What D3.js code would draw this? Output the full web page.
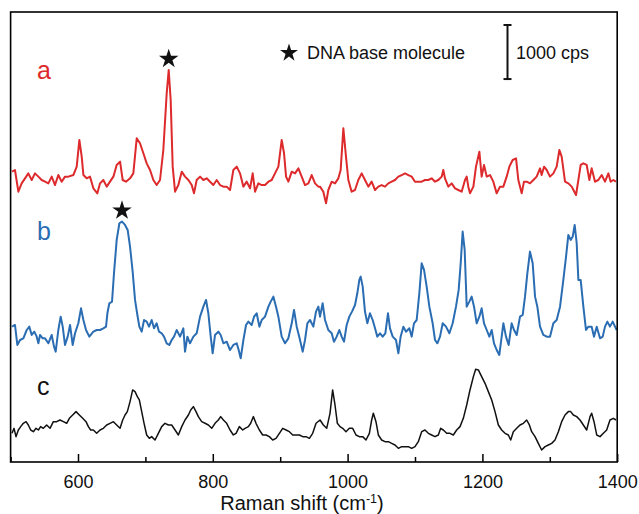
<!DOCTYPE html>
<html>
<head>
<meta charset="utf-8">
<script src="https://cdn.jsdelivr.net/npm/d3@7"></script>
<style>
  html, body { margin: 0; padding: 0; background: #ffffff; }
  svg { display: block; font-family: "Liberation Sans", Arial, Helvetica, sans-serif; }
</style>
</head>
<body>
<svg id="chart" width="639" height="514"></svg>
<script>
// ---- data (Raman shift in cm^-1, intensity in cps above each trace's own offset) ----
const spectrumA = [[502.1,586],[506.5,617],[511.5,216],[516.4,370],[521.4,463],[526.3,555],[531.3,432],[536.2,555],[541.2,494],[546.1,432],[551.1,401],[556.0,370],[561.0,494],[565.9,339],[570.8,524],[575.8,401],[580.7,494],[585.7,494],[593.1,524],[598.1,679],[602.0,1172],[605.5,864],[608.0,524],[612.9,463],[617.8,494],[622.8,278],[628.7,185],[632.7,370],[637.6,432],[642.6,309],[647.5,401],[652.5,494],[657.4,710],[662.4,771],[666.3,432],[671.2,401],[677.2,463],[682.1,555],[687.1,1203],[692.0,1111],[697.0,926],[701.9,740],[706.9,617],[711.8,432],[716.7,339],[721.7,432],[726.6,987],[731.6,2036],[734.6,2468],[737.5,1913],[740.5,679],[744.0,216],[748.9,339],[753.9,586],[758.8,494],[763.8,432],[768.7,339],[772.1,185],[776.1,432],[781.1,494],[786.0,432],[791.0,463],[795.9,401],[800.8,339],[805.8,432],[810.7,339],[815.7,309],[820.6,309],[825.6,247],[830.5,617],[835.5,679],[840.4,555],[845.4,309],[850.3,401],[855.3,278],[859.2,555],[862.7,216],[867.6,370],[872.6,339],[877.5,339],[882.5,401],[887.4,432],[892.3,555],[897.3,679],[902.2,1172],[905.7,926],[908.7,494],[912.1,401],[917.1,586],[922.0,555],[927.0,648],[931.9,494],[936.8,339],[941.8,370],[946.7,524],[951.7,370],[956.6,309],[959.1,309],[964.0,216],[968.0,0],[971.4,247],[976.4,401],[981.3,370],[986.3,463],[989.7,617],[993.7,1388],[997.6,864],[1001.1,432],[1006.0,216],[1011.0,247],[1015.9,432],[1020.9,555],[1025.8,432],[1030.8,309],[1035.7,401],[1040.7,247],[1045.6,309],[1050.5,339],[1055.5,309],[1060.4,370],[1065.4,401],[1070.3,432],[1075.3,494],[1080.2,524],[1085.2,555],[1090.1,524],[1095.1,494],[1100.0,401],[1105.0,401],[1109.9,401],[1114.8,432],[1119.8,432],[1124.7,463],[1129.7,401],[1134.6,432],[1139.6,494],[1142.0,617],[1144.5,463],[1149.5,309],[1154.4,370],[1159.4,278],[1164.3,247],[1169.2,216],[1174.2,432],[1176.7,494],[1179.1,309],[1181.6,185],[1186.6,309],[1190.5,679],[1195.5,956],[1198.9,494],[1202.4,710],[1206.4,494],[1211.3,524],[1216.2,401],[1221.2,185],[1226.1,309],[1231.1,309],[1236.0,494],[1240.0,679],[1244.9,802],[1249.9,833],[1253.3,432],[1258.3,185],[1261.7,401],[1265.7,401],[1270.6,370],[1275.6,432],[1280.5,494],[1285.5,648],[1287.9,524],[1291.4,679],[1295.4,617],[1300.3,494],[1305.3,555],[1310.2,679],[1314.2,987],[1317.6,864],[1322.6,401],[1327.5,370],[1332.5,309],[1338.9,154],[1342.4,432],[1345.8,710],[1349.8,740],[1354.7,710],[1358.7,432],[1362.1,648],[1367.1,401],[1372.0,432],[1377.0,524],[1381.9,401],[1386.9,555],[1390.3,401],[1394.3,432],[1398.2,401]];

const spectrumB = [[502.1,617],[506.5,648],[510.0,278],[514.0,370],[518.9,401],[523.9,555],[527.8,617],[531.3,463],[535.2,524],[538.7,432],[541.2,309],[543.6,463],[547.6,401],[551.1,401],[556.0,309],[561.0,463],[564.4,247],[566.9,154],[570.8,555],[574.3,802],[577.3,617],[580.7,278],[584.7,432],[588.2,648],[592.1,278],[595.6,494],[600.5,679],[604.5,956],[608.0,740],[611.9,555],[616.8,432],[622.8,524],[627.7,555],[632.7,555],[637.6,586],[641.6,617],[643.6,864],[646.5,1049],[650.5,1080],[653.4,1604],[657.4,2221],[661.4,2530],[665.3,2561],[669.8,2499],[673.7,2406],[677.2,2098],[681.1,1635],[684.6,1111],[688.1,833],[691.0,617],[694.5,524],[698.0,740],[701.9,710],[705.4,617],[709.3,740],[712.8,586],[716.7,679],[720.2,524],[724.2,494],[727.6,432],[731.6,309],[735.5,278],[739.0,370],[742.5,432],[746.4,555],[751.4,432],[756.3,586],[758.8,154],[762.3,432],[766.2,309],[771.2,432],[776.1,494],[781.1,802],[786.0,987],[790.0,1111],[793.4,864],[796.9,432],[799.8,123],[803.3,463],[808.2,524],[811.7,463],[815.7,309],[820.6,339],[825.6,185],[830.5,278],[835.5,309],[838.4,185],[841.4,31],[845.4,370],[849.3,648],[852.8,710],[857.7,648],[861.2,802],[865.1,864],[869.1,617],[872.6,740],[877.5,802],[882.5,987],[885.9,1080],[889.9,1172],[893.8,987],[897.3,802],[902.2,432],[907.2,309],[912.1,401],[917.1,679],[920.5,926],[924.5,617],[929.4,370],[933.4,154],[936.8,370],[940.3,679],[944.3,740],[949.2,617],[953.1,895],[956.6,987],[959.1,802],[963.0,1049],[966.5,740],[971.4,555],[976.4,494],[979.8,339],[983.8,432],[987.7,555],[991.2,432],[994.7,339],[998.6,648],[1002.6,802],[1006.5,895],[1011.0,1018],[1014.4,1234],[1017.4,1481],[1019.4,1543],[1022.4,1357],[1025.8,895],[1029.3,679],[1033.2,864],[1037.2,740],[1040.7,586],[1044.1,432],[1048.1,494],[1052.0,432],[1056.0,494],[1059.9,864],[1062.9,586],[1066.9,432],[1071.8,370],[1075.3,123],[1078.7,432],[1082.7,617],[1086.7,524],[1091.6,586],[1095.1,432],[1098.5,679],[1102.5,740],[1106.4,1234],[1109.9,1789],[1113.4,1666],[1117.3,1357],[1121.3,987],[1126.2,679],[1129.7,370],[1133.2,309],[1137.1,432],[1141.1,679],[1146.0,617],[1151.0,494],[1155.9,679],[1160.8,987],[1164.8,1296],[1167.8,1789],[1170.7,2375],[1173.7,2036],[1176.7,987],[1180.6,1080],[1184.1,1172],[1187.6,987],[1191.5,679],[1195.5,802],[1198.9,956],[1202.4,679],[1206.4,555],[1210.3,432],[1213.8,555],[1217.2,309],[1221.2,185],[1225.1,93],[1228.6,432],[1231.1,679],[1235.0,432],[1239.0,278],[1243.4,679],[1246.9,555],[1250.9,463],[1255.8,802],[1259.8,833],[1263.2,1172],[1266.7,1604],[1270.6,2005],[1274.6,1789],[1278.1,1172],[1281.5,987],[1285.5,617],[1290.4,463],[1295.4,432],[1300.3,432],[1305.3,679],[1310.2,740],[1315.2,987],[1320.1,1481],[1324.1,1913],[1327.5,2314],[1331.0,2221],[1334.0,2283],[1336.9,2499],[1339.9,2160],[1342.4,1481],[1345.8,1481],[1349.8,987],[1353.7,555],[1357.2,617],[1362.1,617],[1365.6,432],[1369.6,617],[1374.5,401],[1378.5,432],[1381.9,617],[1385.4,710],[1389.3,617],[1393.3,710],[1396.8,617],[1399.2,555]];

const spectrumC = [[502.1,309],[505.1,401],[508.0,247],[511.5,370],[515.0,432],[518.9,494],[522.9,524],[526.3,463],[529.8,370],[533.8,339],[537.7,401],[541.2,370],[544.6,432],[548.6,401],[553.5,463],[558.5,401],[563.4,524],[568.4,524],[573.3,555],[578.3,524],[583.2,494],[587.2,586],[592.1,648],[597.1,710],[602.0,648],[607.0,586],[611.9,524],[615.4,432],[618.8,370],[622.8,370],[627.7,309],[632.7,370],[637.6,401],[642.6,463],[647.5,494],[652.5,524],[657.4,463],[662.4,401],[666.3,555],[669.8,648],[673.2,710],[677.2,895],[681.1,1111],[684.6,1080],[688.1,987],[691.0,926],[694.5,710],[698.0,494],[701.9,278],[705.9,216],[709.3,247],[714.3,185],[719.2,309],[724.2,432],[729.1,494],[734.1,463],[739.0,463],[744.0,370],[748.9,278],[753.9,432],[758.8,555],[763.8,648],[767.2,740],[771.2,802],[775.1,710],[778.6,617],[783.5,524],[788.5,494],[793.4,463],[798.4,401],[803.3,494],[808.2,555],[811.7,617],[815.7,555],[820.6,494],[825.6,370],[830.5,278],[834.5,309],[839.4,432],[844.4,370],[847.8,401],[852.8,432],[856.2,494],[860.2,617],[864.1,494],[869.1,370],[874.0,278],[879.0,278],[883.9,247],[888.9,185],[893.8,216],[898.8,309],[903.7,401],[908.7,370],[913.6,339],[918.6,278],[923.5,278],[928.4,278],[933.4,247],[938.3,247],[943.3,216],[948.2,309],[953.2,494],[959.1,555],[964.0,463],[969.0,401],[973.9,679],[977.8,1111],[981.3,833],[984.8,494],[988.7,432],[992.7,401],[997.6,339],[1002.6,401],[1007.5,401],[1012.5,278],[1017.4,247],[1022.4,247],[1027.3,185],[1032.3,309],[1035.7,555],[1038.2,679],[1042.1,524],[1045.6,278],[1050.5,185],[1055.5,154],[1060.4,154],[1065.4,123],[1070.3,93],[1075.3,31],[1080.2,62],[1085.2,62],[1090.1,62],[1095.1,31],[1100.0,62],[1104.9,154],[1109.9,339],[1114.8,370],[1119.8,309],[1124.7,278],[1129.7,247],[1134.6,278],[1138.1,401],[1142.0,370],[1147.0,309],[1151.9,309],[1156.9,278],[1161.8,370],[1166.8,432],[1171.7,586],[1176.7,833],[1181.6,1111],[1186.6,1357],[1190.0,1493],[1194.0,1481],[1198.9,1357],[1203.9,1234],[1208.8,1080],[1213.8,926],[1218.7,710],[1223.7,463],[1228.6,370],[1233.6,309],[1238.5,278],[1242.0,185],[1245.9,339],[1250.9,401],[1255.8,463],[1260.8,494],[1265.7,555],[1269.7,463],[1273.1,339],[1278.1,247],[1283.0,123],[1287.9,0],[1292.9,62],[1297.8,93],[1302.8,123],[1307.7,185],[1312.7,339],[1317.6,524],[1322.6,648],[1327.5,710],[1331.0,710],[1334.9,648],[1339.9,617],[1344.8,555],[1349.8,463],[1354.7,370],[1359.7,617],[1362.1,679],[1365.6,524],[1369.6,278],[1374.5,247],[1379.5,309],[1384.4,370],[1389.3,555],[1394.3,586],[1398.2,555]];

const seriesNames = ["a", "b", "c"];
const seriesColors = ["#dd2a2c", "#2b6db3", "#111111"];
const seriesOffsets = [4785, 1887, 222];          // cps offsets used to stack the traces
const seriesData = [spectrumA, spectrumB, spectrumC];
const starPeaks = [{series: 0, shift: 734.6}, {series: 1, shift: 665.3}];
const majorTicks = [600, 800, 1000, 1200, 1400];
const minorTicks = [500, 700, 900, 1100, 1300];
const scaleBarCps = 1000;
const legendLabel = "DNA base molecule";

// ---- layout ----
const svg = d3.select("#chart");
const plotLeft = 10.6, plotRight = 617.2, plotTop = 12, plotBottom = 462;
const x = d3.scaleLinear().domain([500, 1400]).range([plotLeft, plotRight]);
const y = d3.scaleLinear().domain([0, 8325]).range([plotBottom, plotTop]);

// traces
const line = d3.line().x(d => x(d[0])).y(d => y(d[1]));
seriesData.forEach((data, i) => {
  const shifted = data.map(d => [d[0], d[1] + seriesOffsets[i]]);
  svg.append("path")
    .datum(shifted)
    .attr("d", line)
    .attr("fill", "none")
    .attr("stroke", seriesColors[i])
    .attr("stroke-width", i === 2 ? 1.5 : 2)
    .attr("stroke-linejoin", "round");
});

// frame
svg.append("rect")
  .attr("x", plotLeft).attr("y", plotTop)
  .attr("width", plotRight - plotLeft).attr("height", plotBottom - plotTop)
  .attr("fill", "none").attr("stroke", "#000").attr("stroke-width", 1.6);

// axis: major ticks with labels, minor ticks without
const axisMajor = svg.append("g").attr("transform", `translate(0,${plotBottom})`)
  .call(d3.axisBottom(x).tickValues(majorTicks).tickSize(-8).tickPadding(13).tickFormat(d3.format("d")));
const axisMinor = svg.append("g").attr("transform", `translate(0,${plotBottom})`)
  .call(d3.axisBottom(x).tickValues(minorTicks).tickSize(-5).tickFormat(""));
[axisMajor, axisMinor].forEach(g => {
  g.select(".domain").remove();
  g.selectAll(".tick line").attr("stroke", "#000").attr("stroke-width", 1.5);
});
axisMajor.selectAll(".tick text")
  .attr("fill", "#111").style("font-size", "18px")
  .style("font-family", "'Liberation Sans', Arial, sans-serif");

// axis title
const title = svg.append("text")
  .attr("x", 302).attr("y", 510)
  .attr("text-anchor", "middle")
  .attr("fill", "#111")
  .style("font-size", "20px");
title.append("tspan").text("Raman shift (cm");
title.append("tspan").attr("dy", -7).style("font-size", "12.5px").text("-1");
title.append("tspan").attr("dy", 7).text(")");

// series labels
const labelPos = [[37, 79], [37, 240], [37, 395]];
seriesNames.forEach((n, i) => {
  svg.append("text")
    .attr("x", labelPos[i][0]).attr("y", labelPos[i][1])
    .attr("fill", seriesColors[i])
    .style("font-size", "25px")
    .text(n);
});

// stars on peaks
const star = d3.symbol().type(d3.symbolStar);
starPeaks.forEach(p => {
  const data = seriesData[p.series];
  const peak = data.reduce((a, b) => Math.abs(b[0] - p.shift) < Math.abs(a[0] - p.shift) ? b : a);
  const cy = y(peak[1] + seriesOffsets[p.series]) - 11;
  svg.append("path")
    .attr("d", star.size(118)())
    .attr("transform", `translate(${x(p.shift)},${cy})`)
    .attr("fill", "#111");
});

// legend
svg.append("path")
  .attr("d", star.size(100)())
  .attr("transform", "translate(289,53)")
  .attr("fill", "#111");
svg.append("text")
  .attr("x", 307).attr("y", 58.5)
  .attr("fill", "#111")
  .style("font-size", "18px")
  .text(legendLabel);

// scale bar (1000 cps)
const barX = 507.5, barTop = 25;
const barLen = y(0) - y(scaleBarCps);
const bar = svg.append("g").attr("stroke", "#111").attr("stroke-width", 2);
bar.append("line").attr("x1", barX).attr("x2", barX).attr("y1", barTop).attr("y2", barTop + barLen);
bar.append("line").attr("x1", barX - 4).attr("x2", barX + 4).attr("y1", barTop).attr("y2", barTop);
bar.append("line").attr("x1", barX - 4).attr("x2", barX + 4).attr("y1", barTop + barLen).attr("y2", barTop + barLen);
svg.append("text")
  .attr("x", 516).attr("y", 58.5)
  .attr("fill", "#111")
  .style("font-size", "18px")
  .text(`${scaleBarCps} cps`);
</script>
</body>
</html>
